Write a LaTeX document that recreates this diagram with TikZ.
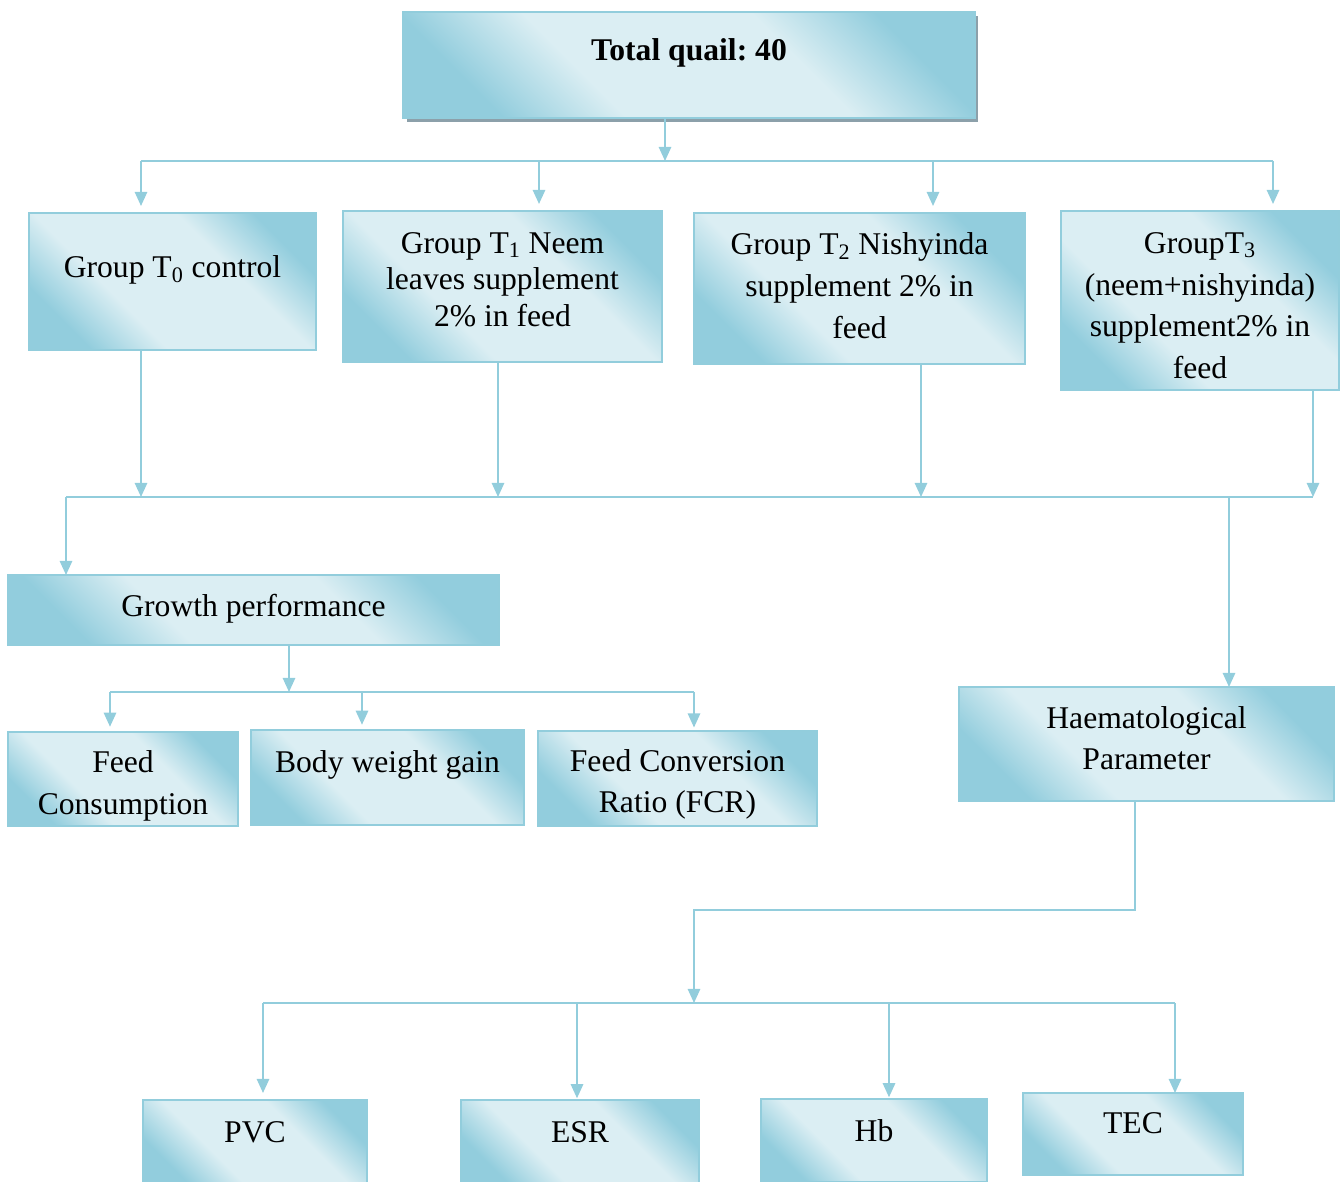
\documentclass[tikz,border=0pt]{standalone}
\usepackage{fontspec}
\setmainfont{Liberation Serif}
\frenchspacing
\usetikzlibrary{arrows.meta,shadows}
\definecolor{qline}{RGB}{146,205,220}
\definecolor{qdark}{RGB}{146,205,221}
\definecolor{qlight}{RGB}{219,238,243}
\definecolor{qshadow}{RGB}{140,160,170}
\pgfdeclareverticalshading{qfade}{100bp}{color(0bp)=(qdark); color(25bp)=(qdark);
  color(38bp)=(qlight); color(62bp)=(qlight); color(75bp)=(qdark); color(100bp)=(qdark)}
\tikzset{
  qbox/.style={draw=qline, line width=1.1pt, shade, shading=qfade, shading angle=-45,
    align=center, inner sep=2pt, outer sep=0pt, font=\fontsize{18}{23.8}\selectfont},
  txtlift/.style={text height=12.3pt, text depth=#1},
  conn/.style={draw=qline, line width=1.1pt, -{Triangle[width=7pt,length=8pt]}},
  bus/.style={draw=qline, line width=1.1pt}
}
\begin{document}
\begin{tikzpicture}[x=0.02cm, y=-0.02cm]
  \useasboundingbox (0,0) rectangle (1341,1181);
  \node (total) [qbox, txtlift=17pt, font=\fontsize{18}{23.8}\selectfont\bfseries,
                minimum width=11.44cm, minimum height=2.12cm,
                drop shadow={shadow xshift=2pt, shadow yshift=-2pt, fill=qshadow, opacity=1}]
                at (689,65) {Total quail: 40};
  \node (g0)    [qbox, txtlift=16.4pt, minimum width=5.74cm, minimum height=2.74cm]
                at (172.5,281.5) {Group T\textsubscript{0} control};
  \node (g1)    [qbox, font=\fontsize{18}{21}\selectfont, text depth=8pt,
                minimum width=6.38cm, minimum height=3.02cm]
                at (502.5,286.5) {Group T\textsubscript{1} Neem\\leaves supplement\\2\% in feed};
  \node (g2)    [qbox, text depth=3.4pt, minimum width=6.62cm, minimum height=3.02cm]
                at (859.5,288.5) {Group T\textsubscript{2} Nishyinda\\supplement 2\% in\\feed};
  \node (g3)    [qbox, text height=89.3pt, minimum width=5.56cm, minimum height=3.58cm]
                at (1200,300.5) {GroupT\textsubscript{3}\\(neem+nishyinda)\\supplement2\% in\\feed};
  \node (grow)  [qbox, txtlift=4.5pt, minimum width=9.82cm, minimum height=1.40cm]
                at (253.5,610) {Growth performance};
  \node (fc)    [qbox, text height=44.1pt, minimum width=4.60cm, minimum height=1.88cm]
                at (123,779) {Feed\\Consumption};
  \node (bw)    [qbox, txtlift=17.6pt, minimum width=5.46cm, minimum height=1.90cm]
                at (387.5,777.5) {Body weight gain};
  \node (fcr)   [qbox, text height=42.9pt, minimum width=5.58cm, minimum height=1.90cm]
                at (677.5,778.5) {Feed Conversion\\Ratio (FCR)};
  \node (haem)  [qbox, text depth=6.8pt, minimum width=7.50cm, minimum height=2.28cm]
                at (1146.5,744) {Haematological\\Parameter};
  \node (pvc)   [qbox, txtlift=11.3pt, minimum width=4.48cm, minimum height=1.68cm]
                at (255,1142) {PVC};
  \node (esr)   [qbox, txtlift=11.3pt, minimum width=4.76cm, minimum height=1.68cm]
                at (580,1142) {ESR};
  \node (hb)    [qbox, txtlift=10.8pt, minimum width=4.52cm, minimum height=1.66cm]
                at (874,1140.5) {Hb};
  \node (tec)   [qbox, txtlift=12.5pt, minimum width=4.40cm, minimum height=1.64cm]
                at (1133,1134) {TEC};

  \coordinate (topin) at (665,161);
  \coordinate (top0)  at (141,161);
  \coordinate (top1)  at (539,161);
  \coordinate (top2)  at (933,161);
  \coordinate (top3)  at (1273,161);
  \draw[conn] (total.south -| topin) -- (topin);
  \draw[bus]  (top0) -- (top3);
  \draw[conn, shorten >=4pt] (top0) -- (top0 |- g0.north);
  \draw[conn, shorten >=4pt] (top1) -- (top1 |- g1.north);
  \draw[conn, shorten >=4pt] (top2) -- (top2 |- g2.north);
  \draw[conn, shorten >=4pt] (top3) -- (top3 |- g3.north);

  \coordinate (midL) at (66,497);
  \coordinate (mid0) at (141,497);
  \coordinate (mid1) at (498,497);
  \coordinate (mid2) at (921,497);
  \coordinate (mid3) at (1313,497);
  \coordinate (midR) at (1229,497);
  \draw[bus]  (midL) -- (mid3);
  \draw[conn] (g0.south -| mid0) -- (mid0);
  \draw[conn] (g1.south -| mid1) -- (mid1);
  \draw[conn] (g2.south -| mid2) -- (mid2);
  \draw[conn] (g3.south -| mid3) -- (mid3);
  \draw[conn] (midL) -- (midL |- grow.north);
  \draw[conn] (midR) -- (midR |- haem.north);

  \coordinate (gbus)  at (289,692);
  \coordinate (gbusL) at (110,692);
  \coordinate (gbusB) at (362,692);
  \coordinate (gbusR) at (694,692);
  \draw[conn] (grow.south -| gbus) -- (gbus);
  \draw[bus]  (gbusL) -- (gbusR);
  \draw[conn, shorten >=3pt] (gbusL) -- (gbusL |- fc.north);
  \draw[conn, shorten >=3pt] (gbusB) -- (gbusB |- bw.north);
  \draw[conn, shorten >=2pt] (gbusR) -- (gbusR |- fcr.north);

  \coordinate (hturn) at (1135,910);
  \coordinate (hbus)  at (694,1003);
  \coordinate (hbusL) at (263,1003);
  \coordinate (hbus1) at (577,1003);
  \coordinate (hbus2) at (889,1003);
  \coordinate (hbusR) at (1175,1003);
  \draw[conn] (haem.south -| hturn) -- (hturn) -| (hbus);
  \draw[bus]  (hbusL) -- (hbusR);
  \draw[conn, shorten >=4pt] (hbusL) -- (hbusL |- pvc.north);
  \draw[conn, shorten >=1pt] (hbus1) -- (hbus1 |- esr.north);
  \draw[conn, shorten >=1pt] (hbus2) -- (hbus2 |- hb.north);
  \draw[conn] (hbusR) -- (hbusR |- tec.north);
\end{tikzpicture}
\end{document}
